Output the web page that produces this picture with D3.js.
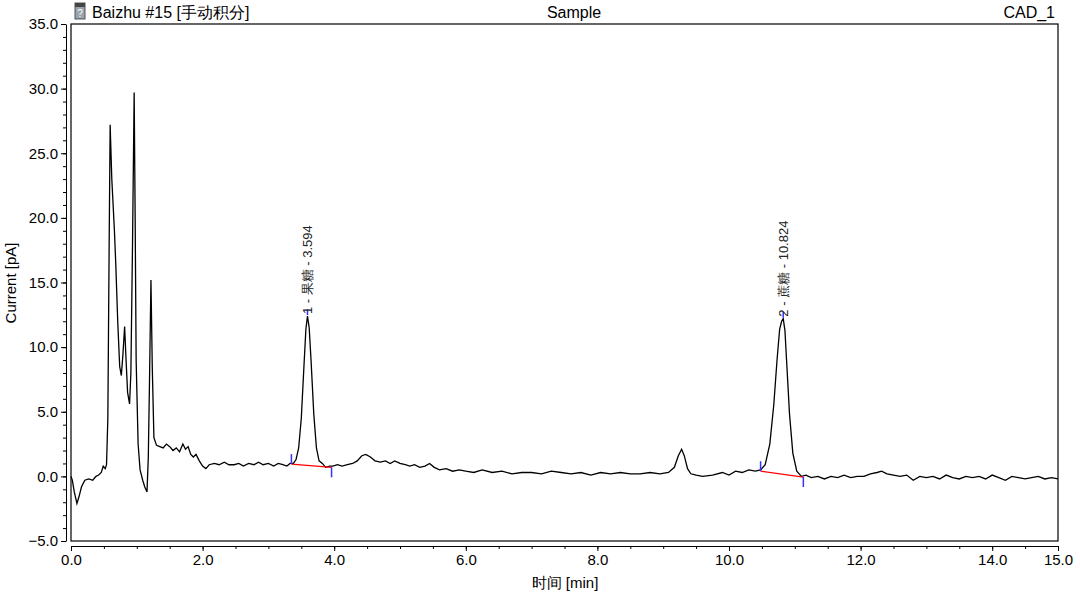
<!DOCTYPE html>
<html><head><meta charset="utf-8">
<script src="https://cdn.jsdelivr.net/npm/d3@7"></script>
<style>body{margin:0;background:#fff;font-family:"Liberation Sans",Arial,sans-serif}</style>
</head><body><div id="chart"></div>
<script>
// retention time [min]
const times = [
    0.00,0.02,0.05,0.09,0.12,0.16,0.21,0.27,0.33,0.38,
    0.42,0.46,0.49,0.52,0.54,0.56,0.58,0.595,0.62,0.66,
    0.68,0.71,0.74,0.765,0.79,0.815,0.835,0.86,0.89,0.91,
    0.935,0.96,0.975,0.99,1.02,1.05,1.09,1.12,1.155,1.175,
    1.195,1.215,1.235,1.26,1.30,1.35,1.40,1.45,1.50,1.55,
    1.60,1.65,1.70,1.74,1.78,1.82,1.86,1.90,1.95,2.00,
    2.05,2.10,2.18,2.25,2.33,2.40,2.48,2.55,2.62,2.70,
    2.78,2.85,2.92,3.00,3.08,3.15,3.22,3.28,3.33,3.38,
    3.42,3.46,3.50,3.54,3.57,3.594,3.62,3.65,3.69,3.73,
    3.77,3.82,3.87,3.93,3.98,4.05,4.12,4.20,4.28,4.35,
    4.42,4.48,4.55,4.62,4.70,4.78,4.85,4.92,5.00,5.08,
    5.15,5.22,5.30,5.38,5.45,5.52,5.60,5.70,5.80,5.90,
    6.00,6.12,6.25,6.40,6.55,6.70,6.85,7.00,7.15,7.30,
    7.45,7.60,7.75,7.90,8.05,8.20,8.35,8.50,8.65,8.80,
    8.95,9.08,9.17,9.23,9.28,9.32,9.37,9.42,9.50,9.60,
    9.75,9.90,10.00,10.10,10.20,10.30,10.40,10.48,10.55,10.62,
    10.68,10.73,10.77,10.80,10.824,10.85,10.88,10.92,10.97,11.03,
    11.10,11.17,11.25,11.35,11.45,11.55,11.65,11.75,11.85,11.95,
    12.05,12.15,12.25,12.32,12.40,12.50,12.60,12.70,12.80,12.90,
    13.00,13.10,13.20,13.30,13.40,13.50,13.60,13.70,13.80,13.90,
    14.00,14.10,14.20,14.30,14.40,14.50,14.60,14.70,14.80,14.90,
    15.00];
// CAD_1 current [pA]
const current = [
    0.0,-0.3,-1.2,-2.1,-1.6,-0.8,-0.3,-0.2,-0.3,0.0,
    0.1,0.3,0.8,0.6,0.9,4.5,18.0,27.2,23.0,19.0,
    16.5,12.0,8.5,7.8,9.5,11.6,9.2,6.5,5.6,8.0,
    18.0,29.7,20.0,9.0,2.5,0.5,-0.3,-0.8,-1.2,1.5,
    8.0,15.2,8.5,3.0,2.4,2.3,2.2,2.5,2.3,2.0,
    2.2,1.9,2.5,2.1,2.3,1.7,1.5,1.7,1.2,0.8,
    0.6,0.9,1.0,0.9,1.1,0.9,0.9,1.0,0.8,1.0,
    0.9,1.1,0.9,1.0,0.8,1.0,0.9,0.8,1.0,1.0,
    1.3,2.2,4.5,8.5,11.4,12.4,11.5,8.8,4.8,2.2,
    1.2,1.0,0.7,0.8,0.8,0.9,0.8,0.9,1.0,1.2,
    1.6,1.7,1.5,1.2,1.1,1.2,1.0,1.2,1.0,0.9,
    0.8,0.9,0.7,0.8,1.0,0.7,0.5,0.6,0.4,0.5,
    0.4,0.3,0.5,0.3,0.4,0.2,0.3,0.3,0.2,0.4,
    0.3,0.2,0.3,0.1,0.3,0.2,0.3,0.2,0.2,0.3,
    0.2,0.3,0.7,1.6,2.1,1.6,0.6,0.2,0.1,0.0,
    0.1,0.3,0.1,0.4,0.3,0.5,0.4,0.5,0.9,2.5,
    5.5,9.0,11.4,12.0,12.2,11.3,8.5,4.8,1.8,0.4,
    0.0,0.1,-0.1,0.0,-0.2,0.0,-0.1,0.1,-0.1,0.0,
    0.0,0.2,0.3,0.4,0.2,0.1,0.0,0.1,-0.3,0.0,
    -0.1,0.0,-0.2,0.1,-0.1,-0.2,0.0,-0.1,0.0,-0.2,
    0.1,-0.1,-0.3,0.0,-0.1,-0.2,-0.1,0.0,-0.2,-0.1,
    -0.2];
// integrated peaks
const peakLabels = ["1 - 果糖 - 3.594","2 - 蔗糖 - 10.824"];
const peakTimes = [3.594, 10.824];
const peakHeights = [12.4, 12.2];
const baseStart = [[3.35, 0.95],[10.48, 0.4]];
const baseEnd = [[3.96, 0.7],[11.13, -0.05]];
const yTicks = [-5,0,5,10,15,20,25,30,35];
const xTicks = [0,2,4,6,8,10,12,14,15];

const W = 1080, H = 599;
const svg = d3.select("#chart").append("svg").attr("width", W).attr("height", H);
const x = d3.scaleLinear().domain([0, 15]).range([71, 1058]);
const y = d3.scaleLinear().domain([-5, 35]).range([541, 24]);

// frame
svg.append("rect").attr("x", 71).attr("y", 24).attr("width", 987).attr("height", 517)
    .attr("fill", "none").attr("stroke", "#000").attr("stroke-width", 1.2);

// Y axis
svg.append("g").attr("transform", "translate(66,0)")
    .call(d3.axisLeft(y).tickValues(yTicks).tickFormat(d3.format(".1f")).tickSize(5).tickSizeOuter(0));
svg.append("g").attr("transform", "translate(66,0)")
    .call(d3.axisLeft(y).tickValues(d3.range(-5, 35.01, 1)).tickFormat("").tickSize(3).tickSizeOuter(0))
    .select(".domain").remove();

// X axis
svg.append("g").attr("transform", "translate(0,546)")
    .call(d3.axisBottom(x).tickValues(xTicks).tickFormat(d3.format(".1f")).tickSize(5).tickSizeOuter(0));
svg.append("g").attr("transform", "translate(0,546)")
    .call(d3.axisBottom(x).tickValues(d3.range(0, 15.01, 0.5)).tickFormat("").tickSize(3).tickSizeOuter(0))
    .select(".domain").remove();

svg.selectAll(".tick text").style("font-family", "Liberation Sans, Arial").style("font-size", "15px").attr("fill", "#000");
svg.selectAll(".domain, .tick line").attr("stroke", "#000");

// trace
const pts = times.map((t, i) => [t, current[i]]);
svg.append("path").datum(pts)
    .attr("d", d3.line().x(d => x(d[0])).y(d => y(d[1])))
    .attr("fill", "none").attr("stroke", "#000").attr("stroke-width", 1.3);

// peak baselines and delimiters
peakTimes.forEach((pt, i) => {
    const s = baseStart[i], e = baseEnd[i];
    svg.append("line").attr("x1", x(s[0])).attr("y1", y(s[1])).attr("x2", x(e[0])).attr("y2", y(e[1]))
        .attr("stroke", "#f00").attr("stroke-width", 1.3);
    svg.append("line").attr("x1", x(s[0])).attr("x2", x(s[0])).attr("y1", y(s[1])).attr("y2", y(s[1]) - 10)
        .attr("stroke", "#33f").attr("stroke-width", 1.5);
    svg.append("line").attr("x1", x(e[0])).attr("x2", x(e[0])).attr("y1", y(e[1])).attr("y2", y(e[1]) + 10)
        .attr("stroke", "#33f").attr("stroke-width", 1.5);
    svg.append("line").attr("x1", x(pt)).attr("x2", x(pt)).attr("y1", y(peakHeights[i]) - 1).attr("y2", y(peakHeights[i]) - 7)
        .attr("stroke", "#33f").attr("stroke-width", 1.5);
    svg.append("text")
        .attr("transform", `translate(${x(pt) + 5},${y(peakHeights[i]) - 2}) rotate(-90)`)
        .style("font-size", "13px").attr("fill", "#222")
        .text(peakLabels[i]);
});

// header
const icon = svg.append("g").attr("transform", "translate(75,3)");
icon.append("rect").attr("width", 10).attr("height", 16).attr("fill", "#9aa4ad").attr("stroke", "#555");
icon.append("rect").attr("y", 0).attr("width", 10).attr("height", 4).attr("fill", "#444");
icon.append("text").attr("x", 5).attr("y", 14).attr("text-anchor", "middle")
    .style("font-size", "10px").attr("fill", "#fff").text("?");
svg.append("text").attr("x", 92).attr("y", 18).style("font-size", "16px").text("Baizhu #15 [手动积分]");
svg.append("text").attr("x", 574).attr("y", 18).attr("text-anchor", "middle").style("font-size", "16px").text("Sample");
svg.append("text").attr("x", 1055).attr("y", 18).attr("text-anchor", "end").style("font-size", "16px").text("CAD_1");

// axis titles
svg.append("text").attr("transform", "translate(16,283) rotate(-90)").attr("text-anchor", "middle")
    .style("font-size", "15px").text("Current [pA]");
svg.append("text").attr("x", 565).attr("y", 588).attr("text-anchor", "middle")
    .style("font-size", "15px").text("时间 [min]");
</script></body></html>
